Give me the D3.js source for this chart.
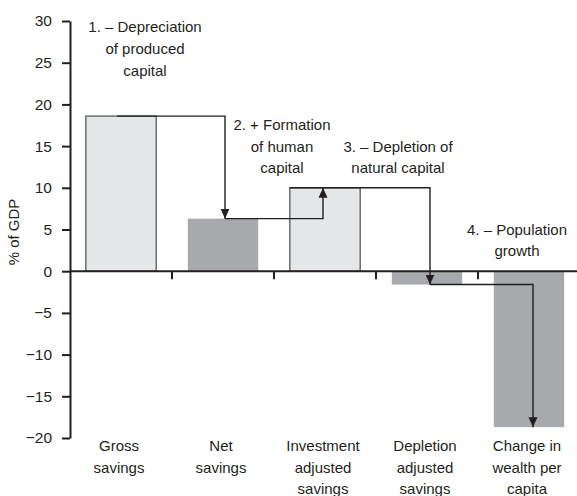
<!DOCTYPE html>
<html>
<head>
<meta charset="utf-8">
<script src="https://cdn.jsdelivr.net/npm/d3@7"></script>
<style>
  body { margin: 0; background: #fff; }
  text { font-family: "Liberation Sans", Arial, sans-serif; fill: #231f20; }
</style>
</head>
<body>
<div id="chart"></div>
<script>
var categories = ["Gross savings", "Net savings", "Investment adjusted savings", "Depletion adjusted savings", "Change in wealth per capita"];
var categoryLines = [["Gross", "savings"], ["Net", "savings"], ["Investment", "adjusted", "savings"], ["Depletion", "adjusted", "savings"], ["Change in", "wealth per", "capita"]];
var values = [18.6, 6.3, 10.0, -1.6, -18.7];
var shades = ["light", "dark", "light", "dark", "dark"];
var yTicks = [-20, -15, -10, -5, 0, 5, 10, 15, 20, 25, 30];
var steps = [
    ["1. \u2013 Depreciation", "of produced", "capital"],
    ["2. + Formation", "of human", "capital"],
    ["3. \u2013 Depletion of", "natural capital"],
    ["4. \u2013 Population", "growth"]
];

var width = 577, height = 496;

var svg = d3.select("#chart").append("svg")
    .attr("width", width)
    .attr("height", height);

var x = d3.scaleBand()
    .domain(categories)
    .range([70, 580])
    .paddingInner(0.31)
    .paddingOuter(0.155);

var y = d3.scaleLinear()
    .domain([-20, 30])
    .range([438, 21]);

var cx = function (i) { return x(categories[i]) + x.bandwidth() / 2; };

// arrow head
svg.append("defs").append("marker")
    .attr("id", "arrow")
    .attr("markerUnits", "userSpaceOnUse")
    .attr("viewBox", "0 0 10 10")
    .attr("refX", 10).attr("refY", 5)
    .attr("markerWidth", 10).attr("markerHeight", 10)
    .attr("orient", "auto")
    .append("path")
    .attr("d", "M0,0.5L10,5L0,9.5Z")
    .attr("fill", "#231f20");

// bars
svg.selectAll(".bar")
    .data(values)
    .enter().append("rect")
    .attr("class", "bar")
    .attr("x", function (d, i) { return x(categories[i]); })
    .attr("width", x.bandwidth())
    .attr("y", function (d) { return y(Math.max(0, d)); })
    .attr("height", function (d) { return Math.abs(y(d) - y(0)); })
    .attr("fill", function (d, i) { return shades[i] === "light" ? "#e6e7e8" : "#a7a9ac"; })
    .attr("stroke", function (d, i) { return shades[i] === "light" ? "#58595b" : "none"; })
    .attr("stroke-width", 1.3);

// connectors between the steps
var arrowX = [cx(0) - 4, cx(1) + 2, cx(2) - 2, cx(3) + 3, cx(4) + 4];
var connectors = [
    [[arrowX[0], y(values[0])], [arrowX[1], y(values[0])], [arrowX[1], y(values[1])]],
    [[arrowX[1], y(values[1])], [arrowX[2], y(values[1])], [arrowX[2], y(values[2])]],
    [[x(categories[2]), y(values[2])], [arrowX[3], y(values[2])], [arrowX[3], y(values[3])]],
    [[arrowX[3], y(values[3])], [arrowX[4], y(values[3])], [arrowX[4], y(values[4])]]
];

svg.selectAll(".connector")
    .data(connectors)
    .enter().append("path")
    .attr("class", "connector")
    .attr("d", d3.line())
    .attr("fill", "none")
    .attr("stroke", "#231f20")
    .attr("stroke-width", 1.4)
    .attr("marker-end", "url(#arrow)");

// y axis
var yAxis = svg.append("g")
    .attr("transform", "translate(70,0)")
    .call(d3.axisLeft(y).tickValues(yTicks).tickSize(8).tickSizeOuter(0).tickPadding(10));

yAxis.select(".domain").attr("stroke", "#231f20").attr("stroke-width", 2);
yAxis.selectAll(".tick line").attr("stroke", "#231f20").attr("stroke-width", 2);
yAxis.selectAll(".tick text")
    .style("font-family", "'Liberation Sans', Arial, sans-serif")
    .style("font-size", "15.5px")
    .attr("fill", "#231f20");

svg.append("text")
    .attr("transform", "translate(19,232) rotate(-90)")
    .attr("text-anchor", "middle")
    .style("font-size", "15px")
    .text("% of GDP");

// x axis at zero
svg.append("line")
    .attr("x1", 70).attr("x2", width)
    .attr("y1", y(0)).attr("y2", y(0))
    .attr("stroke", "#231f20")
    .attr("stroke-width", 2);

var step = x.step();
svg.selectAll(".xtick")
    .data(categories.slice(1))
    .enter().append("line")
    .attr("class", "xtick")
    .attr("x1", function (d) { return x(d) - step * 0.155; })
    .attr("x2", function (d) { return x(d) - step * 0.155; })
    .attr("y1", y(0)).attr("y2", y(0) + 8)
    .attr("stroke", "#231f20")
    .attr("stroke-width", 2);

// category labels
var catLabel = svg.selectAll(".cat")
    .data(categoryLines)
    .enter().append("text")
    .attr("class", "cat")
    .attr("text-anchor", "middle")
    .style("font-size", "15px");

catLabel.selectAll("tspan")
    .data(function (d, i) { return d.map(function (t) { return { t: t, i: i }; }); })
    .enter().append("tspan")
    .attr("x", function (d) { return cx(d.i) - 2; })
    .attr("y", function (d, j) { return 451 + j * 21.5; })
    .text(function (d) { return d.t; });

// step annotations
var stepPos = [
    { x: cx(0) + 24, y: 32, dy: 22 },
    { x: (cx(1) + cx(2)) / 2 + 8, y: 130, dy: 21.5 },
    { x: (cx(2) + cx(3)) / 2 + 22, y: 152, dy: 21 },
    { x: cx(4) - 12, y: 235, dy: 20.5 }
];

var ann = svg.selectAll(".ann")
    .data(steps)
    .enter().append("text")
    .attr("class", "ann")
    .attr("text-anchor", "middle")
    .style("font-size", "15px");

ann.selectAll("tspan")
    .data(function (d, i) { return d.map(function (t) { return { t: t, i: i }; }); })
    .enter().append("tspan")
    .attr("x", function (d) { return stepPos[d.i].x; })
    .attr("y", function (d, j) { return stepPos[d.i].y + j * stepPos[d.i].dy; })
    .text(function (d) { return d.t; });
</script>
</body>
</html>
